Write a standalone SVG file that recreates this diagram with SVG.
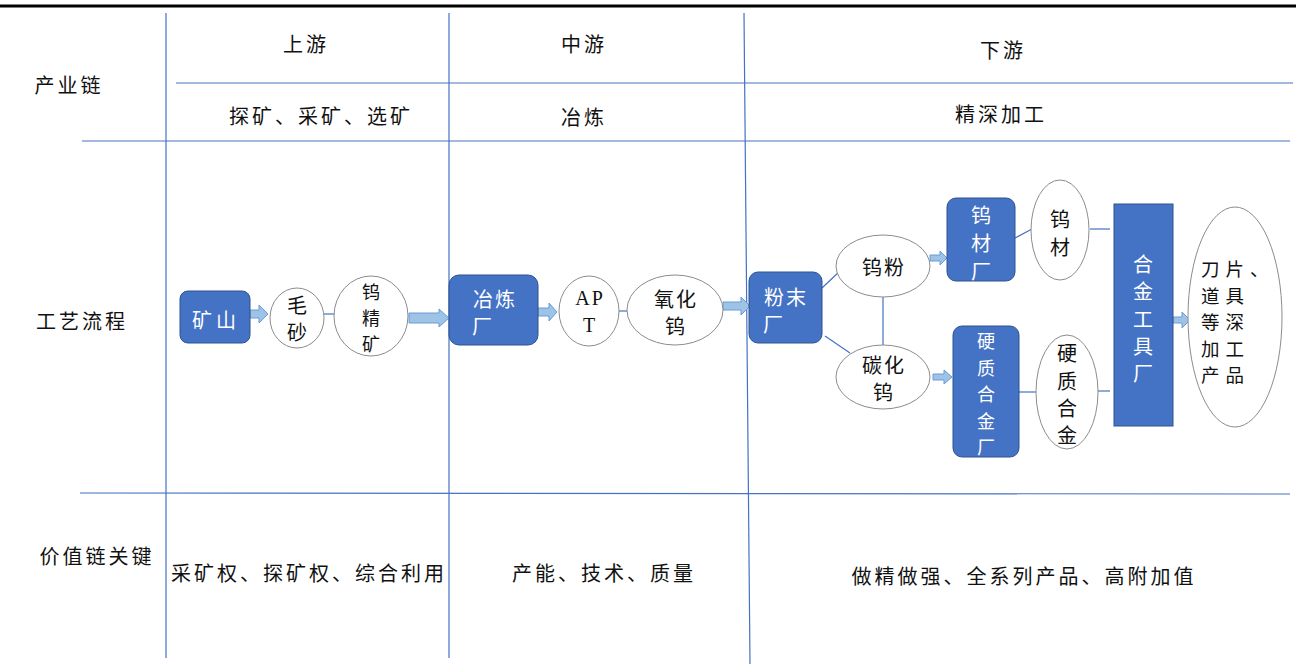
<svg xmlns="http://www.w3.org/2000/svg" width="1304" height="666" viewBox="0 0 1304 666">
<style>
text{font-family:"Noto Sans CJK SC","Noto Sans CJK JP",sans-serif;font-size:20px;fill:#111;text-anchor:middle;dominant-baseline:central;letter-spacing:2px}
.t{letter-spacing:3px}
.s{font-size:18px}
.grid{stroke:#4472C4;stroke-width:1.2;fill:none}
.box{fill:#4472C4;stroke:#2F528F;stroke-width:1}
.box-t{fill:#fff}
.ell{fill:#fff;stroke:#8c8c8c;stroke-width:1}
.ln{stroke:#4472C4;stroke-width:1.2;fill:none}
.arr{fill:#9DC3E6;stroke:#6A9BD6;stroke-width:1}
.ser{font-family:"Liberation Serif","Noto Sans CJK SC",serif}
.l{text-anchor:start;letter-spacing:6px;font-size:18.5px}
</style>
<rect width="1304" height="666" fill="#fff"/>
<g id="table">
<line x1="0" y1="6" x2="1296" y2="6" stroke="#000" stroke-width="3"/>
<line class="grid" x1="166" y1="13" x2="166" y2="658"/>
<line class="grid" x1="449" y1="13" x2="449" y2="658"/>
<line class="grid" x1="744" y1="13" x2="750" y2="664"/>
<line class="grid" x1="176" y1="83" x2="1293" y2="83"/>
<line class="grid" x1="82" y1="141" x2="1290" y2="141"/>
<line class="grid" x1="80" y1="493" x2="1290" y2="494"/>
<text class="t" x="69" y="84">产业链</text>
<text class="t" x="306" y="43">上游</text>
<text class="t" x="584" y="43">中游</text>
<text class="t" x="1003" y="49">下游</text>
<text class="t" x="321" y="115">探矿、采矿、选矿</text>
<text class="t" x="584" y="116">冶炼</text>
<text class="t" x="1001" y="113">精深加工</text>
<text class="t" x="82" y="320">工艺流程</text>
<text class="t" x="97" y="555">价值链关键</text>
<text class="t" x="309" y="572">采矿权、探矿权、综合利用</text>
<text class="t" x="604" y="572">产能、技术、质量</text>
<text class="t" x="1024" y="575">做精做强、全系列产品、高附加值</text>
</g>
<g id="connectors">
<path class="arr" d="M250,310 H259 V305 L268,314 L259,323 V318 H250 Z"/>
<line class="ln" x1="324" y1="314" x2="335" y2="314"/>
<path class="arr" d="M409,313 H439 V309 L449,318 L439,327 V323 H409 Z"/>
<path class="arr" d="M538,308 H549 V303 L557,312 L549,321 V316 H538 Z"/>
<line class="ln" x1="619" y1="311" x2="627" y2="311"/>
<path class="arr" d="M723,302 H741 V297 L750,306 L741,315 V310 H723 Z"/>
<line class="ln" x1="822" y1="288" x2="840" y2="271"/>
<line class="ln" x1="825" y1="336" x2="850" y2="353"/>
<line class="ln" x1="883" y1="297" x2="883" y2="346"/>
<path class="arr" d="M930,255 H940 V251 L947,258 L940,265 V261 H930 Z"/>
<line class="ln" x1="1015" y1="238" x2="1032" y2="229"/>
<line class="ln" x1="1090" y1="229" x2="1110" y2="229"/>
<path class="arr" d="M933,374 H944 V370 L952,377 L944,384 V380 H933 Z"/>
<line class="ln" x1="1019" y1="392" x2="1036" y2="392"/>
<line class="ln" x1="1098" y1="391" x2="1110" y2="391"/>
<path class="arr" d="M1173,317 H1182 V312 L1190,320 L1182,328 V323 H1173 Z"/>
</g>
<g id="n-kuangshan"><rect class="box" x="180" y="291" width="70" height="52" rx="8"/><text class="box-t" x="216" y="319" style="letter-spacing:4px">矿山</text></g>
<g id="n-maosha"><ellipse class="ell" cx="297" cy="318" rx="27" ry="30"/><text x="298" y="304">毛</text><text x="298" y="331">砂</text></g>
<g id="n-wujingkuang"><ellipse class="ell" cx="371" cy="316" rx="37" ry="40"/><text class="s" x="372" y="291">钨</text><text class="s" x="372" y="317">精</text><text class="s" x="372" y="343">矿</text></g>
<g id="n-yelianchang"><rect class="box" x="449" y="275" width="89" height="70" rx="10"/><text class="box-t" x="495" y="298">冶炼</text><text class="box-t" x="483" y="325">厂</text></g>
<g id="n-apt"><ellipse class="ell" cx="589" cy="311" rx="30" ry="35"/><text class="ser" x="590" y="298">AP</text><text class="ser" x="590" y="325">T</text></g>
<g id="n-yanghuawu"><ellipse class="ell" cx="675" cy="310" rx="48" ry="35"/><text x="676" y="298">氧化</text><text x="676" y="325">钨</text></g>
<g id="n-fenmochang"><rect class="box" x="749" y="272" width="73" height="71" rx="9"/><text class="box-t" x="786" y="296">粉末</text><text class="box-t" x="774" y="323">厂</text></g>
<g id="n-wufen"><ellipse class="ell" cx="883" cy="266" rx="47" ry="31"/><text x="884" y="266">钨粉</text></g>
<g id="n-tanhuawu"><ellipse class="ell" cx="883" cy="377" rx="47" ry="32"/><text x="884" y="364">碳化</text><text x="884" y="391">钨</text></g>
<g id="n-wucaichang"><rect class="box" x="947" y="198" width="68" height="83" rx="9"/><text class="box-t" x="982" y="214">钨</text><text class="box-t" x="982" y="242">材</text><text class="box-t" x="982" y="270">厂</text></g>
<g id="n-wucai"><ellipse class="ell" cx="1060" cy="230" rx="29" ry="50"/><text x="1061" y="218">钨</text><text x="1061" y="246">材</text></g>
<g id="n-yingzhichang"><rect class="box" x="953" y="326" width="66" height="131" rx="9"/><text class="box-t s" x="987" y="340">硬</text><text class="box-t s" x="987" y="366.5">质</text><text class="box-t s" x="987" y="393">合</text><text class="box-t s" x="987" y="419.5">金</text><text class="box-t s" x="987" y="446">厂</text></g>
<g id="n-yingzhi"><ellipse class="ell" cx="1067" cy="392" rx="31" ry="57"/><text x="1068" y="352">硬</text><text x="1068" y="380">质</text><text x="1068" y="407">合</text><text x="1068" y="434">金</text></g>
<g id="n-hejin"><rect class="box" x="1114" y="204" width="59" height="222"/><text class="box-t" x="1144" y="263">合</text><text class="box-t" x="1144" y="290">金</text><text class="box-t" x="1144" y="318">工</text><text class="box-t" x="1144" y="345">具</text><text class="box-t" x="1144" y="372">厂</text></g>
<g id="n-products"><ellipse class="ell" cx="1235" cy="317" rx="47" ry="110"/>
<text class="l" x="1201" y="268">刀片、</text>
<text class="l" x="1201" y="294.5">道具</text>
<text class="l" x="1201" y="321">等深</text>
<text class="l" x="1201" y="347.5">加工</text>
<text class="l" x="1201" y="374">产品</text></g>
</svg>
